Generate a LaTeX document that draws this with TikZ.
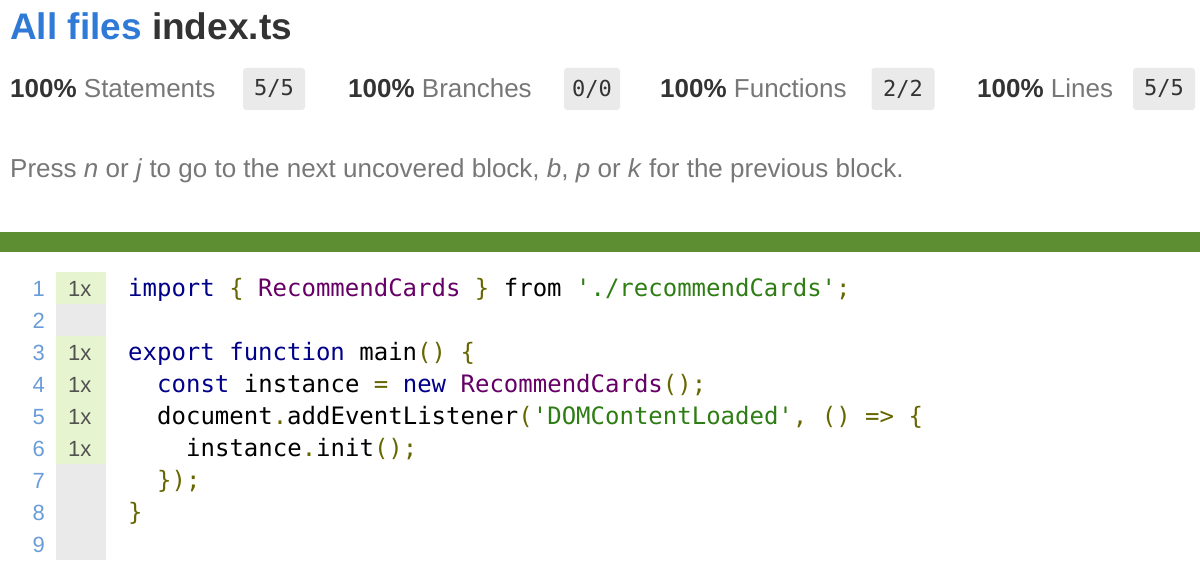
\documentclass[tikz,border=0pt]{standalone}
\usepackage{fontspec}
\setmainfont{Liberation Sans}
\setmonofont{DejaVu Sans Mono}
\definecolor{kw}{HTML}{000088}
\definecolor{ty}{HTML}{660066}
\definecolor{pu}{HTML}{666600}
\definecolor{st}{HTML}{2E7D14}
\definecolor{dk}{HTML}{333333}
\definecolor{gr}{HTML}{777777}
\definecolor{lnum}{HTML}{6A9CDA}
\definecolor{cov}{HTML}{E6F5D0}
\definecolor{gut}{HTML}{EAEAEA}
\definecolor{bar}{HTML}{5D8F32}
\definecolor{link}{HTML}{2F7AD6}
\newcommand{\K}[1]{\textcolor{kw}{#1}}
\newcommand{\T}[1]{\textcolor{ty}{#1}}
\newcommand{\PU}[1]{\textcolor{pu}{#1}}
\newcommand{\ST}[1]{\textcolor{st}{#1}}
\tikzset{x=1pt,y=-1pt,
 code/.style={anchor=base west,inner sep=0,font=\fontsize{24}{28}\ttfamily},
 stat/.style={anchor=base west,inner sep=0,font=\fontsize{26}{30}\selectfont},
 badge/.style={fill=gut,rounded corners=3pt,minimum width=#1,minimum height=42pt,inner sep=0,font=\fontsize{22}{26}\ttfamily,text=dk},
 lno/.style={anchor=base east,inner sep=0,font=\fontsize{22}{26}\selectfont,text=lnum},
 hit/.style={anchor=base west,inner sep=0,font=\fontsize{22}{26}\selectfont,text=dk!85}}
\begin{document}
\begin{tikzpicture}
\useasboundingbox (0,0) rectangle (1200,572);
\node[anchor=base west,inner sep=0,font=\fontsize{37}{40}\bfseries] (title) at (10,40) {\textcolor{link}{All files} \textcolor{dk}{index.ts}};
% stats
\node[stat] (s1) at (10,98) {\textcolor{dk}{\bfseries 100\%} \textcolor{gr}{Statements}};
\node[badge=62pt] (b1) at (274,89) {5/5};
\node[stat] (s2) at (348,98) {\textcolor{dk}{\bfseries 100\%} \textcolor{gr}{Branches}};
\node[badge=56pt] (b2) at (592,89) {0/0};
\node[stat] (s3) at (660,98) {\textcolor{dk}{\bfseries 100\%} \textcolor{gr}{Functions}};
\node[badge=63pt] (b3) at (903,89) {2/2};
\node[stat] (s4) at (977,98) {\textcolor{dk}{\bfseries 100\%} \textcolor{gr}{Lines}};
\node[badge=62pt] (b4) at (1164,89) {5/5};
\node[stat,text=gr] (press) at (10,178) {Press \textit{n} or \textit{j} to go to the next uncovered block, \textit{b}, \textit{p} or \textit{k} for the previous block.};
\fill[bar] (0,232) rectangle (1200,252);
% gutter
\fill[gut] (56,272) rectangle (106,560);
\fill[cov] (56,272) rectangle (106,304);
\fill[cov] (56,336) rectangle (106,464);
\foreach \i in {1,...,9} {\node[lno] (n\i) at (45,{296+32*(\i-1)}) {\i};}
\foreach \i in {1,3,4,5,6} {\node[hit] (h\i) at (68,{296+32*(\i-1)}) {1x};}
% code
\node[code] (c1) at (128,296) {\K{import} \PU{\{} \T{RecommendCards} \PU{\}} from \ST{'./recommendCards'}\PU{;}};
\node[code] (c3) at (128,360) {\K{export} \K{function} main\PU{()} \PU{\{}};
\node[code] (c4) at (157,392) {\K{const} instance \PU{=} \K{new} \T{RecommendCards}\PU{();}};
\node[code] (c5) at (157,424) {document\PU{.}addEventListener\PU{(}\ST{'DOMContentLoaded'}\PU{,} \PU{()} \PU{=>} \PU{\{}};
\node[code] (c6) at (186,456) {instance\PU{.}init\PU{();}};
\node[code] (c7) at (157,488) {\PU{\});}};
\node[code] (c8) at (128,520) {\PU{\}}};
\end{tikzpicture}
\end{document}
